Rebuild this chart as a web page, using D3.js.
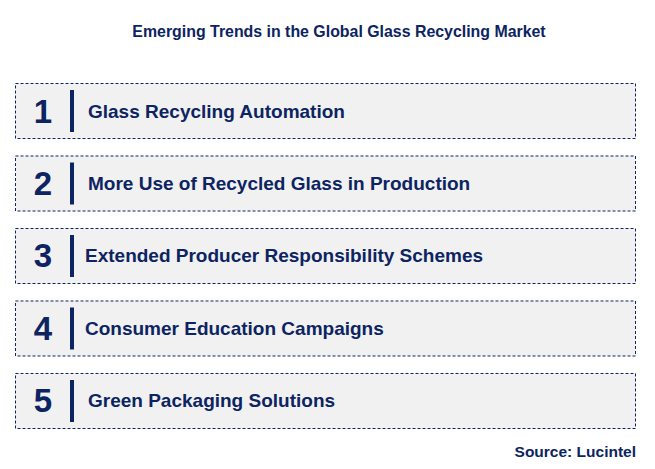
<!DOCTYPE html>
<html><head><meta charset="utf-8">
<script src="https://cdn.jsdelivr.net/npm/d3@7"></script>
<style>body{margin:0;background:#fff}</style>
</head><body>
<svg id="chart" width="655" height="469"></svg>
<script>
const ranks = [1, 2, 3, 4, 5];
const trends = [
  "Glass Recycling Automation",
  "More Use of Recycled Glass in Production",
  "Extended Producer Responsibility Schemes",
  "Consumer Education Campaigns",
  "Green Packaging Solutions"
];

const svg = d3.select("#chart");
const navy = "#0c2461";
const font = "Arial, 'Liberation Sans', sans-serif";

svg.append("text").attr("x", 339).attr("y", 37).attr("text-anchor", "middle")
  .attr("font-family", font).attr("font-size", 15.9).attr("font-weight", "bold")
  .attr("fill", navy).text("Emerging Trends in the Global Glass Recycling Market");

const y = d3.scaleBand().domain(ranks).range([83, 428]).paddingInner(0.241).paddingOuter(0);

const g = svg.selectAll("g.row").data(ranks).enter().append("g")
  .attr("transform", d => `translate(0,${y(d)})`);

g.append("rect").attr("x", 15.5).attr("y", 0.5).attr("width", 620).attr("height", y.bandwidth())
  .attr("fill", "#f1f1f1").attr("stroke", navy).attr("stroke-width", 1).attr("stroke-dasharray", "3,2");

g.append("text").attr("x", 43).attr("y", y.bandwidth() / 2 + 12).attr("text-anchor", "middle")
  .attr("font-family", font).attr("font-size", 33).attr("font-weight", "bold")
  .attr("fill", navy).text(d => d);

g.append("line").attr("x1", 72).attr("x2", 72).attr("y1", 7).attr("y2", y.bandwidth() - 6)
  .attr("stroke", navy).attr("stroke-width", 4);

g.append("text").attr("x", (d, i) => (i === 2 || i === 3) ? 85 : 88).attr("y", y.bandwidth() / 2 + 7)
  .attr("font-family", font).attr("font-size", 19).attr("font-weight", "bold")
  .attr("fill", navy).text((d, i) => trends[i]);

svg.append("text").attr("x", 636).attr("y", 457).attr("text-anchor", "end")
  .attr("font-family", font).attr("font-size", 15.5).attr("font-weight", "bold")
  .attr("fill", navy).text("Source: Lucintel");
</script>
</body></html>
